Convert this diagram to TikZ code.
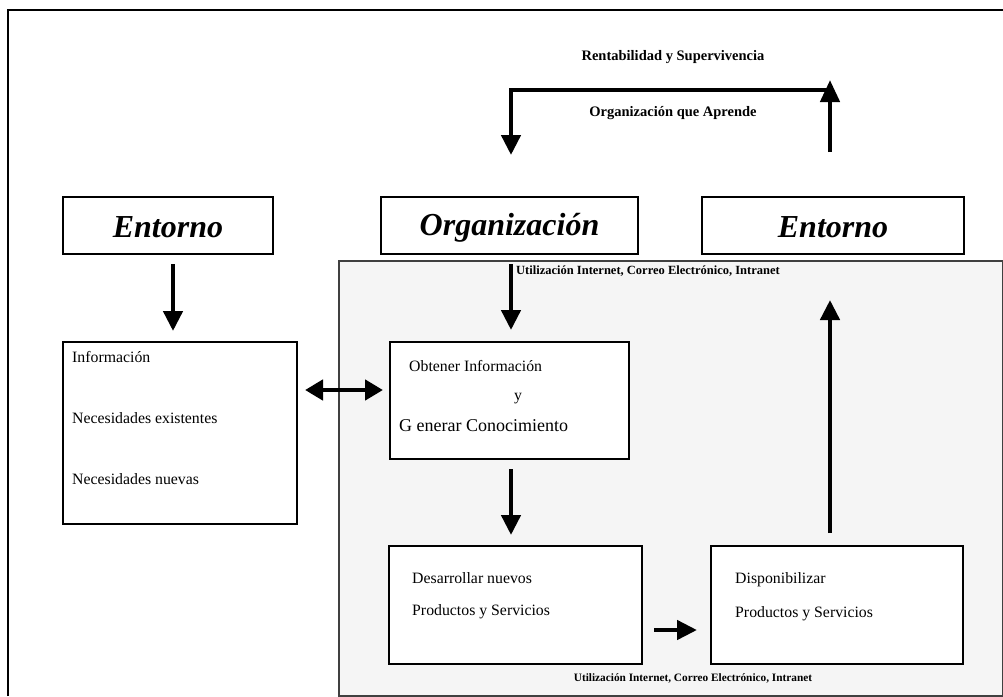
\documentclass[tikz,border=0pt]{standalone}
\usepackage{fontspec}
\setmainfont{Liberation Serif}
\usetikzlibrary{arrows.meta}
\begin{document}
\begin{tikzpicture}[x=1pt,y=-1pt,
  box/.style={draw=black,line width=2pt,fill=white,anchor=north west,inner sep=0pt},
  bigarrow/.style={line width=4.5pt,-{Triangle[length=20pt,width=19pt]}},
  biglabel/.style={font=\fontsize{32}{32}\selectfont\bfseries\itshape},
  body/.style={font=\fontsize{15.8}{16}\selectfont,anchor=base west,inner sep=0pt},
  note/.style={font=\fontsize{14.5}{15}\selectfont\bfseries,inner sep=0pt}]
\useasboundingbox (0,0) rectangle (1003,696);
% outer frame
\draw[line width=2pt] (8,696) -- (8,10) -- (1003,10);
% shaded area of electronic tools
\draw[line width=1.5pt,draw=black!75,fill=black!4] (339,261) rectangle (1003,696);

% feedback loop at the top
\node[note] (rent) at (673,57) {Rentabilidad y Supervivencia};
\node[note] (apr) at (673,113) {Organización que Aprende};
\coordinate (loopL) at (511,155);
\coordinate (loopR) at (830,152);
\coordinate (loopTR) at (830,90);
\coordinate (loopTL) at (511,90);
\draw[line width=4.5pt,-{Triangle[length=22pt,width=19pt]}]
  (loopR) -- (830,80);
\draw[bigarrow] (loopTR) -- (loopTL) -- (loopL);

% top row
\node[box,minimum width=210pt,minimum height=57pt] (ent1) at (62,196) {};
\node[biglabel,yshift=-2pt] at (ent1.center) {Entorno};
\node[box,minimum width=257pt,minimum height=57pt] (org) at (380,196) {};
\node[biglabel,yshift=-2pt] at (org.center) {Organización};
\node[box,minimum width=262pt,minimum height=57pt] (ent2) at (701,196) {};
\node[biglabel,yshift=-2pt] at (ent2.center) {Entorno};

\node[font=\fontsize{12.5}{13}\selectfont\bfseries,anchor=west,inner sep=0pt] (util1) at (516,271)
  {Utilización Internet, Correo Electrónico, Intranet};

% information box
\node[box,minimum width=234pt,minimum height=182pt] (info) at (62,341) {};
\node[body] at (72,362) {Información};
\node[body] at (72,423) {Necesidades existentes};
\node[body] at (72,484) {Necesidades nuevas};

% knowledge box
\node[box,minimum width=239pt,minimum height=117pt] (obt) at (389,341) {};
\node[body] at (409,371) {Obtener Información};
\node[body] at (514,400) {y};
\node[body,font=\fontsize{18}{18}\selectfont] at (399,431) {G enerar Conocimiento};

% product boxes
\node[box,minimum width=253pt,minimum height=118pt] (des) at (388,545) {};
\node[body] at (412,583) {Desarrollar nuevos};
\node[body] at (412,615) {Productos y Servicios};
\node[box,minimum width=252pt,minimum height=118pt] (dis) at (710,545) {};
\node[body] at (735,583) {Disponibilizar};
\node[body] at (735,617) {Productos y Servicios};

\node[font=\fontsize{11.3}{12}\selectfont\bfseries] (util2) at (693,678)
  {Utilización Internet, Correo Electrónico, Intranet};

% flow arrows
\draw[bigarrow] ([xshift=5pt,yshift=-9pt]ent1.south) -- ([xshift=5pt]ent1.south |- 0,331);
\draw[bigarrow] ([yshift=-9pt]org.south -| 511,0) -- (511,330);
\draw[line width=4.5pt,{Triangle[length=18pt,width=20pt]}-{Triangle[length=18pt,width=20pt]}]
  ([xshift=7pt]info.east |- 0,390) -- ([xshift=-6pt]obt.west |- 0,390);
\draw[bigarrow] ([yshift=-9pt]obt.south -| 511,0) -- (511,535);
\draw[bigarrow] ([xshift=11pt]des.east |- 0,630) -- (697,630);
\draw[bigarrow] ([yshift=12pt]dis.north -| 830,0) -- (830,300);
\end{tikzpicture}
\end{document}
